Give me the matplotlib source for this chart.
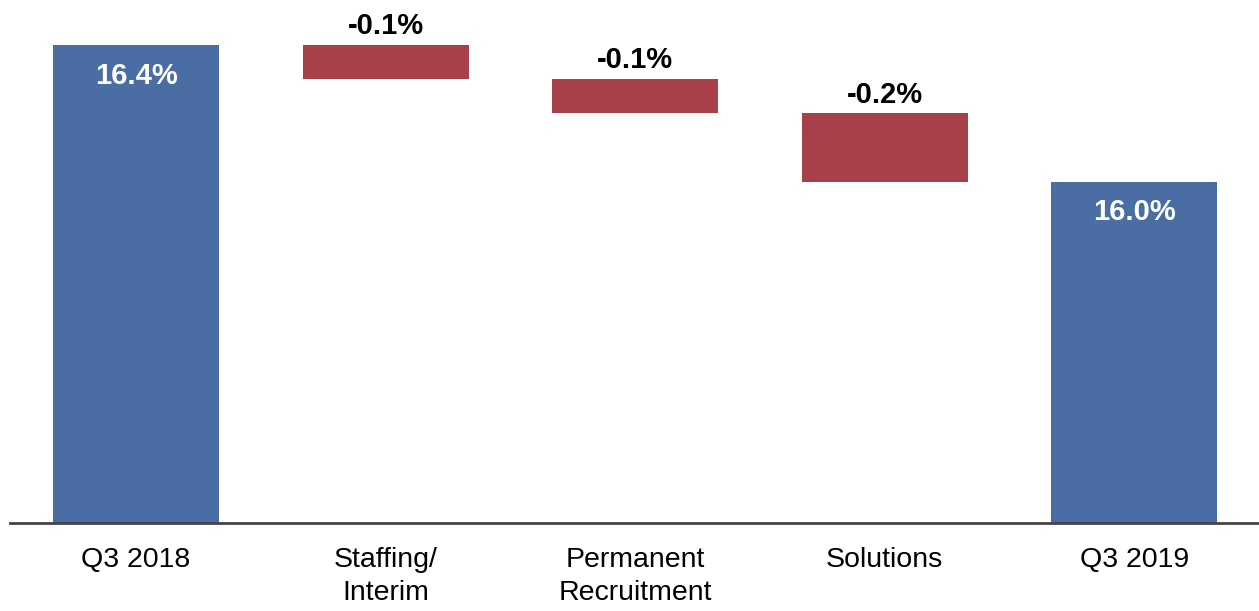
import numpy as np
import matplotlib
matplotlib.use("Agg")
import matplotlib.pyplot as plt

plt.rcParams["font.family"] = ["Liberation Sans", "DejaVu Sans"]

categories = ["Q3 2018", "Staffing/\nInterim", "Permanent\nRecruitment", "Solutions", "Q3 2019"]
start_value = 16.4
deltas = [-0.1, -0.1, -0.2]
end_value = 16.0

BLUE = "#4A6DA3"
RED = "#A8404A"
AXIS_GREY = "#454545"

fig = plt.figure(figsize=(12.59, 6.11), dpi=100)
ax = fig.add_axes([10 / 1259, 88 / 611, 1249 / 1259, 523 / 611])

x = np.arange(len(categories))
width = 0.665

# opening and closing totals
for xi, val in [(x[0], start_value), (x[-1], end_value)]:
    ax.bar(xi, val, width=width, color=BLUE, zorder=2)
    ax.annotate(f"{val:.1f}%", (xi, val), xytext=(0, -22), textcoords="offset points",
                ha="center", va="center", color="white", fontsize=21, fontweight="bold")

# step changes in between
level = start_value
for xi, d in zip(x[1:-1], deltas):
    ax.bar(xi, -d, bottom=level + d, width=width, color=RED, zorder=2)
    ax.annotate(f"{d:.1f}%", (xi, level), xytext=(0, 13.5), textcoords="offset points",
                ha="center", va="center", color="black", fontsize=21, fontweight="bold")
    level += d

ax.set_xlim(-0.505, 4.5)
ax.set_ylim(15.0, 16.532)
ax.set_xticks(x)
ax.set_xticklabels(categories, fontsize=20.5, linespacing=1.35)
ax.tick_params(axis="x", length=0, pad=17)
ax.set_yticks([])
for side in ["top", "right", "left"]:
    ax.spines[side].set_visible(False)
ax.spines["bottom"].set_color(AXIS_GREY)
ax.spines["bottom"].set_linewidth(2)

fig.savefig("out.png", dpi=100)
